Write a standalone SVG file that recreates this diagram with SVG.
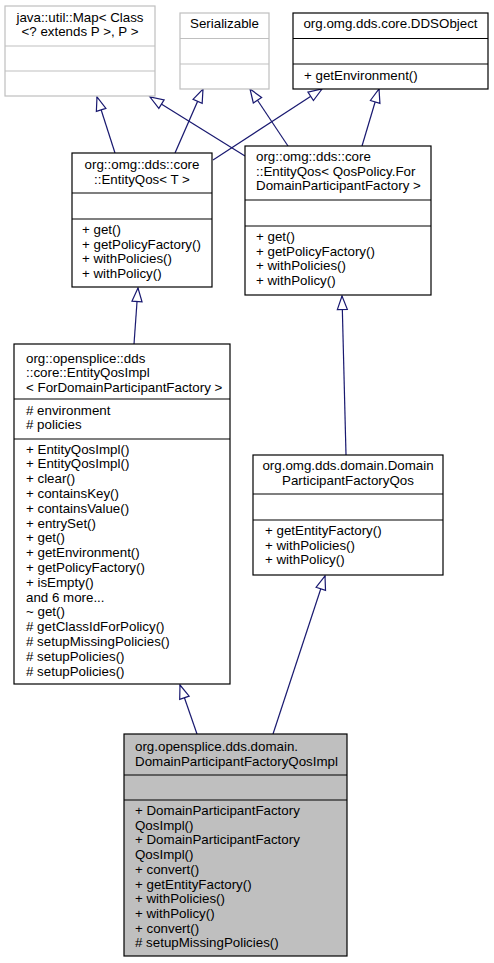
<svg xmlns="http://www.w3.org/2000/svg" width="494" height="963" viewBox="0 0 494 963">
<style>
text{font-family:"Liberation Sans",Arial,sans-serif;font-size:13.33px;fill:#000}
.c{text-anchor:middle}
.b{fill:#fff;stroke:#000;stroke-width:1.2}
.g{fill:#fff;stroke:#bfbfbf;stroke-width:1.2}
.h{fill:#bfbfbf;stroke:#000;stroke-width:1.2}
.s{stroke:#000;stroke-width:1.2}
.sg{stroke:#bfbfbf;stroke-width:1.2}
.e{stroke:#191970;stroke-width:1.2;fill:none;marker-end:url(#tri)}
</style>
<defs>
<marker id="tri" markerUnits="userSpaceOnUse" markerWidth="17" markerHeight="13" refX="15" refY="6.5" orient="auto">
<path d="M1.5,1.5 L15,6.5 L1.5,11.5 z" fill="#fff" stroke="#191970" stroke-width="1.2"/>
</marker>
</defs>
<rect width="494" height="963" fill="#fff"/>
<g id="edges">
<line class="e" x1="115" y1="153" x2="97" y2="97"/>
<line class="e" x1="245" y1="156" x2="150" y2="97"/>
<line class="e" x1="175" y1="153" x2="203" y2="89"/>
<line class="e" x1="213" y1="160" x2="322" y2="89"/>
<line class="e" x1="288" y1="146" x2="250" y2="89"/>
<line class="e" x1="362" y1="146" x2="379" y2="89"/>
<line class="e" x1="134" y1="344" x2="138" y2="288"/>
<line class="e" x1="346" y1="455" x2="342" y2="296"/>
<line class="e" x1="197" y1="734" x2="180" y2="685"/>
<line class="e" x1="273" y1="734" x2="325" y2="576"/>
</g>
<g id="map">
<rect class="g" x="5" y="6" width="150" height="90"/>
<line class="sg" x1="5" y1="46" x2="155" y2="46"/>
<line class="sg" x1="5" y1="71" x2="155" y2="71"/>
<text class="c" x="80" y="21.5">java::util::Map&lt; Class</text>
<text class="c" x="80" y="36">&lt;? extends P &gt;, P &gt;</text>
</g>
<g id="serializable">
<rect class="g" x="180" y="13" width="89" height="76"/>
<line class="sg" x1="180" y1="38.5" x2="269" y2="38.5"/>
<line class="sg" x1="180" y1="64" x2="269" y2="64"/>
<text class="c" x="224.5" y="28">Serializable</text>
</g>
<g id="ddsobject">
<rect class="b" x="293" y="13" width="195" height="76"/>
<line class="s" x1="293" y1="38.5" x2="488" y2="38.5"/>
<line class="s" x1="293" y1="64" x2="488" y2="64"/>
<text class="c" x="390.5" y="28">org.omg.dds.core.DDSObject</text>
<text x="304" y="80">+ getEnvironment()</text>
</g>
<g id="entityqos_t">
<rect class="b" x="72" y="153" width="140" height="134"/>
<line class="s" x1="72" y1="193" x2="212" y2="193"/>
<line class="s" x1="72" y1="219" x2="212" y2="219"/>
<text class="c" x="142" y="169">org::omg::dds::core</text>
<text class="c" x="142" y="183.5">::EntityQos&lt; T &gt;</text>
<text x="82" y="234">+ get()</text>
<text x="82" y="248.5">+ getPolicyFactory()</text>
<text x="82" y="263">+ withPolicies()</text>
<text x="82" y="277.5">+ withPolicy()</text>
</g>
<g id="entityqos_qp">
<rect class="b" x="245" y="146" width="186" height="149"/>
<line class="s" x1="245" y1="200" x2="431" y2="200"/>
<line class="s" x1="245" y1="226" x2="431" y2="226"/>
<text x="256" y="161">org::omg::dds::core</text>
<text x="256" y="175.5">::EntityQos&lt; QosPolicy.For</text>
<text x="256" y="190">DomainParticipantFactory &gt;</text>
<text x="256" y="241">+ get()</text>
<text x="256" y="255.5">+ getPolicyFactory()</text>
<text x="256" y="270">+ withPolicies()</text>
<text x="256" y="284.5">+ withPolicy()</text>
</g>
<g id="entityqosimpl">
<rect class="b" x="14" y="344" width="216" height="340"/>
<line class="s" x1="14" y1="399" x2="230" y2="399"/>
<line class="s" x1="14" y1="439" x2="230" y2="439"/>
<text x="26" y="362.5">org::opensplice::dds</text>
<text x="26" y="377">::core::EntityQosImpl</text>
<text x="26" y="391.5">&lt; ForDomainParticipantFactory &gt;</text>
<text x="26" y="414.5"># environment</text>
<text x="26" y="429"># policies</text>
<text x="26" y="453.5">+ EntityQosImpl()</text>
<text x="26" y="468.3">+ EntityQosImpl()</text>
<text x="26" y="483.1">+ clear()</text>
<text x="26" y="497.9">+ containsKey()</text>
<text x="26" y="512.7">+ containsValue()</text>
<text x="26" y="527.5">+ entrySet()</text>
<text x="26" y="542.3">+ get()</text>
<text x="26" y="557.1">+ getEnvironment()</text>
<text x="26" y="571.9">+ getPolicyFactory()</text>
<text x="26" y="586.7">+ isEmpty()</text>
<text x="26" y="601.5">and 6 more...</text>
<text x="26" y="616.3">~ get()</text>
<text x="26" y="631.1"># getClassIdForPolicy()</text>
<text x="26" y="645.9"># setupMissingPolicies()</text>
<text x="26" y="660.7"># setupPolicies()</text>
<text x="26" y="675.5"># setupPolicies()</text>
</g>
<g id="dpfqos">
<rect class="b" x="253" y="455" width="190" height="120"/>
<line class="s" x1="253" y1="494" x2="443" y2="494"/>
<line class="s" x1="253" y1="520" x2="443" y2="520"/>
<text class="c" x="348" y="470">org.omg.dds.domain.Domain</text>
<text class="c" x="348" y="484.5">ParticipantFactoryQos</text>
<text x="265" y="535">+ getEntityFactory()</text>
<text x="265" y="549.5">+ withPolicies()</text>
<text x="265" y="564">+ withPolicy()</text>
</g>
<g id="dpfqosimpl">
<rect class="h" x="124" y="734" width="223" height="222"/>
<line class="s" x1="124" y1="775" x2="347" y2="775"/>
<line class="s" x1="124" y1="800" x2="347" y2="800"/>
<text x="135" y="751">org.opensplice.dds.domain.</text>
<text x="135" y="765.5">DomainParticipantFactoryQosImpl</text>
<text x="135" y="815">+ DomainParticipantFactory</text>
<text x="135" y="829.7">QosImpl()</text>
<text x="135" y="844.4">+ DomainParticipantFactory</text>
<text x="135" y="859.1">QosImpl()</text>
<text x="135" y="873.8">+ convert()</text>
<text x="135" y="888.5">+ getEntityFactory()</text>
<text x="135" y="903.2">+ withPolicies()</text>
<text x="135" y="917.9">+ withPolicy()</text>
<text x="135" y="932.6">+ convert()</text>
<text x="135" y="947.3"># setupMissingPolicies()</text>
</g>
</svg>
